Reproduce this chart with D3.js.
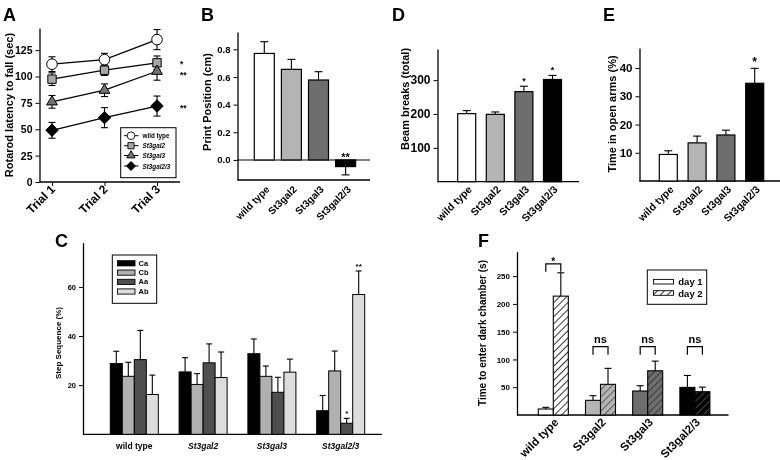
<!DOCTYPE html>
<html><head><meta charset="utf-8">
<script src="https://cdn.jsdelivr.net/npm/d3@7"></script>
<style>
body{margin:0;background:#fff}
svg{filter:grayscale(1)}
text{font-family:"Liberation Sans",Arial,Helvetica,sans-serif;font-weight:bold;fill:#000}
</style>
</head><body>
<svg id="c" width="780" height="460"></svg>
<script>
// ---------------- DATA ----------------
const genotypes = ["wild type","St3gal2","St3gal3","St3gal2/3"];
const trials = ["Trial 1","Trial 2","Trial 3"];
// Panel A: rotarod latency (sec)
const rotWT = [111.7,116,135],   rotWTErr = [7,6,9.5];
const rotG2 = [97.5,106,113],    rotG2Err = [6,5,6.5];
const rotG3 = [76,87,105],       rotG3Err = [6,6,8.5];
const rotG23 = [49,61,72],       rotG23Err = [7.5,9.5,9.5];
const rotSig = ["","*","**","**"];
const rotTicks = [0,25,50,75,100,125];
// Panel B: print position (cm)
const printPos = [0.77,0.655,0.578,-0.048];
const printErr = [0.085,0.072,0.06,0.06];
const printSig = ["","","","**"];
const printTicks = [0,0.2,0.4,0.6,0.8];
// Panel D: beam breaks
const beamBreaks = [201,199,266,302];
const beamErr = [9,7,16,12];
const beamSig = ["","","*","*"];
const beamTicks = [100,200,300];
// Panel E: time in open arms (%)
const openArms = [9.4,13.5,16.3,34.6];
const openErr = [1.3,2.4,1.7,5.3];
const openSig = ["","","","*"];
const openTicks = [10,20,30,40];
// Panel C: step sequence (%)
const stepSeries = ["Ca","Cb","Aa","Ab"];
const stepCa = [28.8,25.4,32.8,9.6],  stepCaErr = [5.0,5.8,6.0,6.2];
const stepCb = [23.6,20.3,23.6,25.8], stepCbErr = [5.7,4.4,4.2,8.1];
const stepAa = [30.4,29.1,17.1,4.5],  stepAaErr = [11.9,7.7,6.1,2.0];
const stepAb = [16.2,23.1,25.3,56.9], stepAbErr = [7.9,10.4,5.3,9.6];
const stepSigAa = ["","","","*"], stepSigAb = ["","","","**"];
const stepTicks = [20,40,60];
// Panel F: time to enter dark chamber (s)
const days = ["day 1","day 2"];
const day1 = [10.8,26.4,43.2,49.7], day1Err = [3,8.4,9.6,21.5];
const day2 = [214,55.2,79.6,41.9],  day2Err = [42,28.8,17.4,8.3];
const darkSig = ["*","ns","ns","ns"];
const darkTicks = [50,100,150,200,250];

// ---------------- STYLE ----------------
const FONT = '"Liberation Sans",Arial,Helvetica,sans-serif';
const gFill = ["#ffffff","#b4b4b4","#6e6e6e","#000000"];
const stepFill = ["#000000","#b0b0b0","#4f4f4f","#dddddd"];
const svg = d3.select("#c");
svg.append("rect").attr("width",780).attr("height",460).attr("fill","#fff");

function yAxis(g, scale, x, ticks, fmt, fs){
  const a = g.append("g").attr("transform",`translate(${x},0)`)
    .call(d3.axisLeft(scale).tickValues(ticks).tickFormat(fmt).tickSize(4).tickSizeOuter(0));
  a.select(".domain").attr("stroke","#000").attr("stroke-width",1.3);
  a.selectAll(".tick line").attr("stroke","#000").attr("stroke-width",1);
  a.selectAll(".tick text").attr("font-size",fs).attr("font-family",FONT).attr("font-weight","bold").attr("fill","#000");
  return a;
}
function hline(g,x1,x2,y,w){g.append("line").attr("x1",x1).attr("x2",x2).attr("y1",y).attr("y2",y).attr("stroke","#000").attr("stroke-width",w||1.3);}
function vlabel(g,x,y,txt,fs){g.append("text").attr("transform",`translate(${x},${y}) rotate(-90)`).attr("text-anchor","middle").attr("dominant-baseline","central").attr("font-size",fs).text(txt);}
function letter(x,y,t){svg.append("text").attr("x",x).attr("y",y).attr("font-size",18).text(t);}
function errBar(g,x,y1,y2,cap){
  g.append("line").attr("x1",x).attr("x2",x).attr("y1",y1).attr("y2",y2).attr("stroke","#000").attr("stroke-width",1.1);
  g.append("line").attr("x1",x-cap/2).attr("x2",x+cap/2).attr("y1",y2).attr("y2",y2).attr("stroke","#000").attr("stroke-width",1.1);
}
function rotLabels(g,scale,cats,y,fs,dx){
  cats.forEach((c,i)=>{
    g.append("text").attr("transform",`translate(${scale(c)+scale.bandwidth()/2+dx},${y}) rotate(-45)`)
      .attr("text-anchor","end").attr("font-size",fs).text(c);
  });
}

// ---------------- PANEL A ----------------
letter(3,21,"A");
const gA = svg.append("g");
const yA = d3.scaleLinear().domain([0,146]).range([182,28]);
const xA = d3.scalePoint().domain(trials).range([52,157]);
yAxis(gA,yA,39.5,rotTicks,d3.format("d"),10.5);
hline(gA,39.5,180,182);
const axA = gA.append("g").attr("transform","translate(0,182)").call(d3.axisBottom(xA).tickSize(4).tickFormat(""));
axA.select(".domain").remove();
axA.selectAll(".tick line").attr("stroke","#000").attr("stroke-width",1);
trials.forEach(t=>{
  gA.append("text").attr("transform",`translate(${xA(t)+4},190) rotate(-45)`).attr("text-anchor","end").attr("font-size",12).text(t);
});
vlabel(gA,9,105,"Rotarod latency to fall (sec)",11);
const rotSeries = [
  {v:rotWT,e:rotWTErr,sym:d3.symbolCircle,size:88,fill:"#fff",rot:0,lsize:46},
  {v:rotG2,e:rotG2Err,sym:d3.symbolSquare,size:70,fill:"#a8a8a8",rot:0,lsize:38},
  {v:rotG3,e:rotG3Err,sym:d3.symbolTriangle,size:50,fill:"#727272",rot:0,lsize:30},
  {v:rotG23,e:rotG23Err,sym:d3.symbolSquare,size:72,fill:"#000",rot:45,lsize:40}
];
const lineA = d3.line().x((d,i)=>xA(trials[i])).y(d=>yA(d));
rotSeries.forEach(s=>{
  gA.append("path").attr("d",lineA(s.v)).attr("fill","none").attr("stroke","#000").attr("stroke-width",1.3);
});
rotSeries.forEach(s=>{
  s.v.forEach((v,i)=>{
    const x = xA(trials[i]);
    errBar(gA,x,yA(v),yA(v+s.e[i]),7);
    errBar(gA,x,yA(v),yA(v-s.e[i]),7);
  });
});
rotSeries.forEach(s=>{
  s.v.forEach((v,i)=>{
    gA.append("path").attr("d",d3.symbol().type(s.sym).size(s.size)())
      .attr("transform",`translate(${xA(trials[i])},${yA(v)}) rotate(${s.rot})`)
      .attr("fill",s.fill).attr("stroke","#000").attr("stroke-width",1);
  });
});
rotSeries.forEach((s,k)=>{
  if(rotSig[k]) gA.append("text").attr("x",xA(trials[2])+23).attr("y",yA(s.v[2])+(k===2?7:4.5)).attr("font-size",8.5).text(rotSig[k]);
});
// legend A
gA.append("rect").attr("x",120.7).attr("y",127.7).attr("width",55.3).attr("height",50).attr("fill","#fff").attr("stroke","#000").attr("stroke-width",1);
const legYA = [135.7,145.7,155.5,166];
rotSeries.forEach((s,k)=>{
  hline(gA,124,138.5,legYA[k],1);
  gA.append("path").attr("d",d3.symbol().type(s.sym).size(s.lsize)())
    .attr("transform",`translate(131,${legYA[k]}) rotate(${s.rot})`)
    .attr("fill",s.fill).attr("stroke","#000").attr("stroke-width",0.9);
  gA.append("text").attr("x",142.5).attr("y",legYA[k]).attr("dominant-baseline","central")
    .attr("font-size",6.3).attr("font-style",k>0?"italic":"normal").text(genotypes[k]);
});

// ---------------- generic simple bar panel ----------------
function simpleBars(o){
  const g = svg.append("g");
  const y = d3.scaleLinear().domain(o.dom).range(o.yr);
  const x = d3.scaleBand().domain(genotypes).range(o.xr).paddingInner(o.pad).paddingOuter(0);
  yAxis(g,y,o.ax,o.ticks,o.fmt,o.fs);
  hline(g,o.ax,o.xend,o.yr[0]);
  if(o.dom[0]<0) hline(g,o.ax,o.xend,y(0),1.1);
  o.vals.forEach((v,i)=>{
    const bx = x(genotypes[i]), bw = x.bandwidth();
    const cx = bx+bw/2;
    const top = v>=0 ? y(v+o.errs[i]) : y(v-o.errs[i]);
    errBar(g,cx,y(v),top,8);
    g.append("rect").attr("x",bx).attr("y",Math.min(y(v),y(0))).attr("width",bw)
      .attr("height",Math.abs(y(v)-y(0))).attr("fill",gFill[i]).attr("stroke","#000").attr("stroke-width",1.2);
    if(o.sig[i]){
      const sy = v>=0 ? top - o.sigOff : y(0) - 5;
      g.append("text").attr("x",cx).attr("y",sy+0.57*o.sigFs).attr("text-anchor","middle").attr("font-size",o.sigFs).text(o.sig[i]);
    }
  });
  rotLabels(g,x,genotypes,190,o.lfs,6);
  vlabel(g,o.lx,o.ly,o.title,11);
  return g;
}

// ---------------- PANEL B ----------------
letter(201,21,"B");
simpleBars({dom:[-0.145,0.925],yr:[180,32],xr:[254.3,355.6],pad:0.262,ax:237.5,xend:370,
  ticks:printTicks,fmt:d3.format(".1f"),fs:9.5,vals:printPos,errs:printErr,sig:printSig,sigOff:8,sigFs:11,
  lfs:10,lx:207,ly:102,title:"Print Position (cm)"});

// ---------------- PANEL D ----------------
letter(392,21,"D");
simpleBars({dom:[0,392],yr:[181.7,49],xr:[457.7,561.5],pad:0.37,ax:437.5,xend:579,
  ticks:beamTicks,fmt:d3.format("d"),fs:12,vals:beamBreaks,errs:beamErr,sig:beamSig,sigOff:7.5,sigFs:9,
  lfs:10.5,lx:405,ly:99,title:"Beam breaks (total)"});

// ---------------- PANEL E ----------------
letter(603,21,"E");
simpleBars({dom:[0,47.1],yr:[181,48],xr:[659.3,763.7],pad:0.375,ax:639.5,xend:780,
  ticks:openTicks,fmt:d3.format("d"),fs:11.5,vals:openArms,errs:openErr,sig:openSig,sigOff:9,sigFs:12,
  lfs:10.5,lx:612,ly:114,title:"Time in open arms (%)"});

// ---------------- PANEL C ----------------
letter(55,247,"C");
const gC = svg.append("g");
const yC = d3.scaleLinear().domain([0,78]).range([434.3,242.7]);
const xC = d3.scaleBand().domain(genotypes).range([110.3,364.7]).paddingInner(0.302).paddingOuter(0);
const xCi = d3.scaleBand().domain(stepSeries).range([0,xC.bandwidth()]);
yAxis(gC,yC,83,stepTicks,d3.format("d"),7.5);
hline(gC,83,382,434.3);
const stepVals = [stepCa,stepCb,stepAa,stepAb];
const stepErrs = [stepCaErr,stepCbErr,stepAaErr,stepAbErr];
const stepSigs = [null,null,stepSigAa,stepSigAb];
genotypes.forEach((gname,i)=>{
  stepSeries.forEach((s,k)=>{
    const v = stepVals[k][i], e = stepErrs[k][i];
    const bx = xC(gname)+xCi(s), bw = xCi.bandwidth(), cx = bx+bw/2;
    errBar(gC,cx,yC(v),yC(v+e),6);
    gC.append("rect").attr("x",bx).attr("y",yC(v)).attr("width",bw).attr("height",yC(0)-yC(v))
      .attr("fill",stepFill[k]).attr("stroke","#000").attr("stroke-width",1);
    if(stepSigs[k] && stepSigs[k][i]){
      gC.append("text").attr("x",cx).attr("y",yC(v+e)-7+4.6).attr("text-anchor","middle").attr("font-size",8).text(stepSigs[k][i]);
    }
  });
  gC.append("text").attr("x",xC(gname)+xC.bandwidth()/2).attr("y",448.5).attr("text-anchor","middle")
    .attr("font-size",8.5).attr("font-style",i>0?"italic":"normal").text(gname);
});
vlabel(gC,58,343,"Step Sequence (%)",8);
gC.append("rect").attr("x",112.3).attr("y",255).attr("width",44.4).attr("height",48.3).attr("fill","#fff").attr("stroke","#000").attr("stroke-width",1);
const legYC = [263.3,272.6,281.9,291.5];
stepSeries.forEach((s,k)=>{
  gC.append("rect").attr("x",117.5).attr("y",legYC[k]-2.6).attr("width",17.5).attr("height",5.2)
    .attr("fill",stepFill[k]).attr("stroke","#000").attr("stroke-width",0.9);
  gC.append("text").attr("x",138.5).attr("y",legYC[k]).attr("dominant-baseline","central").attr("font-size",7.5).text(s);
});

// ---------------- PANEL F ----------------
letter(478,247,"F");
const gF = svg.append("g");
const defs = svg.append("defs");
const hatchLine = ["#000","#4a4a4a","#2e2e2e","#555"];
gFill.forEach((c,i)=>{
  const p = defs.append("pattern").attr("id","h"+i).attr("patternUnits","userSpaceOnUse")
    .attr("width",5).attr("height",5).attr("patternTransform","rotate(45)");
  p.append("rect").attr("width",5).attr("height",5).attr("fill",c);
  p.append("line").attr("x1",0).attr("x2",0).attr("y1",0).attr("y2",5).attr("stroke",hatchLine[i]).attr("stroke-width",1.6);
});
const yF = d3.scaleLinear().domain([0,294]).range([415,251.7]);
const xF = d3.scaleBand().domain(genotypes).range([538.3,709.9]).paddingInner(0.364).paddingOuter(0);
const xFi = d3.scaleBand().domain(days).range([0,xF.bandwidth()]);
yAxis(gF,yF,517,darkTicks,d3.format("d"),8);
hline(gF,517,728.5,415);
const dayVals = [day1,day2], dayErrs = [day1Err,day2Err];
genotypes.forEach((gname,i)=>{
  days.forEach((d,k)=>{
    const v = dayVals[k][i], e = dayErrs[k][i];
    const bx = xF(gname)+xFi(d), bw = xFi.bandwidth(), cx = bx+bw/2;
    errBar(gF,cx,yF(v),yF(v+e),7);
    gF.append("rect").attr("x",bx).attr("y",yF(v)).attr("width",bw).attr("height",yF(0)-yF(v))
      .attr("fill",k===0?gFill[i]:`url(#h${i})`).attr("stroke","#000").attr("stroke-width",1.1);
  });
  const c1 = xF(gname)+xFi(days[0])+xFi.bandwidth()/2, c2 = xF(gname)+xFi(days[1])+xFi.bandwidth()/2;
  const bt = darkSig[i]==="ns" ? yF(123) : yF(day2[i]+day2Err[i]) - 9;
  gF.append("path").attr("d",`M${c1},${bt+8}V${bt}H${c2}V${bt+8}`).attr("fill","none").attr("stroke","#000").attr("stroke-width",1.2);
  if(darkSig[i]==="ns"){
    gF.append("text").attr("x",(c1+c2)/2).attr("y",bt-3.5).attr("text-anchor","middle").attr("font-size",11).attr("font-weight","normal").text("ns");
  } else {
    gF.append("text").attr("x",(c1+c2)/2).attr("y",bt-5+5.7).attr("text-anchor","middle").attr("font-size",10).text(darkSig[i]);
  }
});
rotLabels(gF,xF,genotypes,423,11.5,6);
vlabel(gF,482,333,"Time to enter dark chamber (s)",10);
gF.append("rect").attr("x",647.3).attr("y",270).attr("width",59.4).attr("height",34.3).attr("fill","#fff").attr("stroke","#000").attr("stroke-width",1);
const legYF = [281.7,293];
days.forEach((d,k)=>{
  gF.append("rect").attr("x",653.5).attr("y",legYF[k]-2.3).attr("width",20).attr("height",4.6)
    .attr("fill",k===0?"#fff":"url(#h0)").attr("stroke","#000").attr("stroke-width",0.9);
  gF.append("text").attr("x",678.3).attr("y",legYF[k]).attr("dominant-baseline","central").attr("font-size",9.5).text(d);
});
</script>
</body></html>
